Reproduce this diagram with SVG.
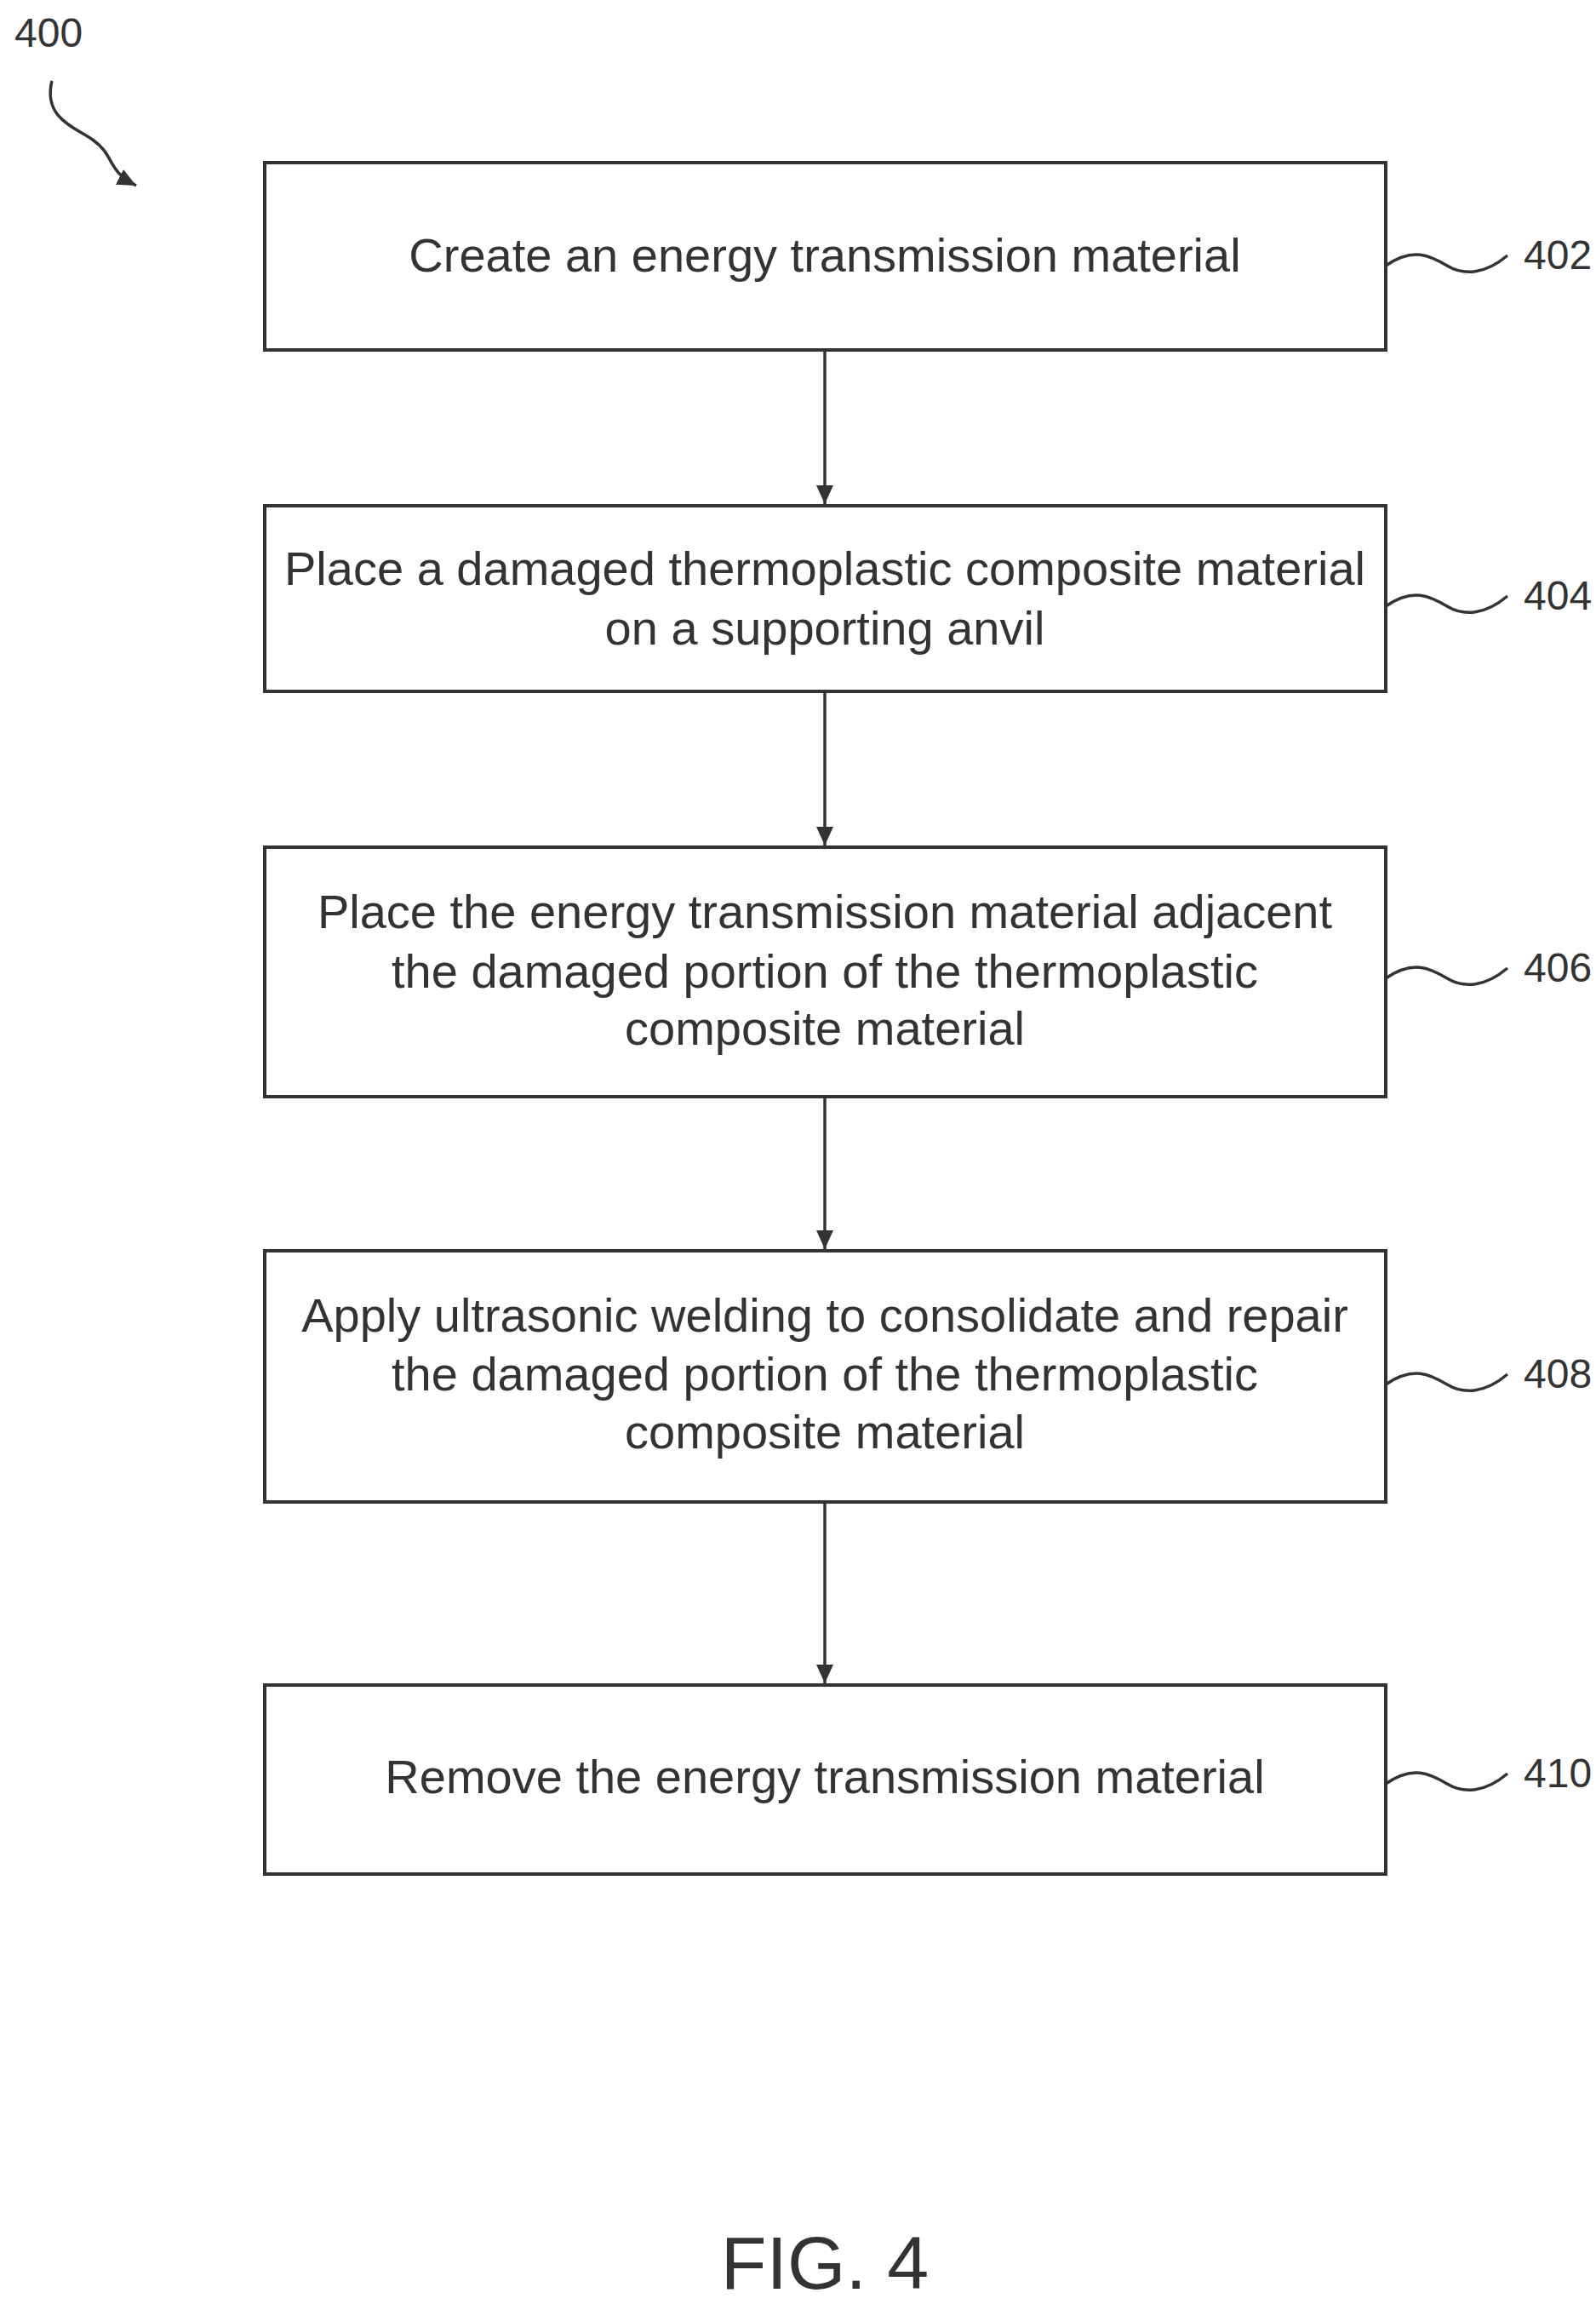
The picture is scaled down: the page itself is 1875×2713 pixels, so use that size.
<svg xmlns="http://www.w3.org/2000/svg" width="1875" height="2713" viewBox="0 0 1875 2713">
<defs>
<style>
.box{fill:#fff;stroke:#333;stroke-width:4}
.t{font-family:"Liberation Sans",Arial,sans-serif;font-size:56px;fill:#333;text-anchor:middle}
.n{font-family:"Liberation Sans Narrow","Liberation Sans",Arial,sans-serif;font-size:48px;fill:#333}
.c{fill:none;stroke:#333;stroke-width:3.5}
</style>
<marker id="a2" markerWidth="24" markerHeight="24" refX="22" refY="12" orient="auto" markerUnits="userSpaceOnUse"><path d="M0,2 L22,12 L0,22 z" fill="#333"/></marker>
</defs>
<rect width="1875" height="2713" fill="#fff"/>
<g id="n400"><text class="n" x="17" y="55">400</text></g>
<g id="n402"><rect class="box" x="311" y="191" width="1317" height="220"/><text class="t" x="969" y="319">Create an energy transmission material</text><text class="n" x="1790" y="316">402</text></g>
<g id="n404"><rect class="box" x="311" y="594" width="1317" height="218"/><text class="t" x="969" y="687">Place a damaged thermoplastic composite material</text><text class="t" x="969" y="757">on a supporting anvil</text><text class="n" x="1790" y="716">404</text></g>
<g id="n406"><rect class="box" x="311" y="995" width="1317" height="293"/><text class="t" x="969" y="1090">Place the energy transmission material adjacent</text><text class="t" x="969" y="1160">the damaged portion of the thermoplastic</text><text class="t" x="969" y="1227">composite material</text><text class="n" x="1790" y="1153">406</text></g>
<g id="n408"><rect class="box" x="311" y="1469" width="1317" height="295"/><text class="t" x="969" y="1564">Apply ultrasonic welding to consolidate and repair</text><text class="t" x="969" y="1633">the damaged portion of the thermoplastic</text><text class="t" x="969" y="1701">composite material</text><text class="n" x="1790" y="1630">408</text></g>
<g id="n410"><rect class="box" x="311" y="1979" width="1317" height="222"/><text class="t" x="969" y="2106">Remove the energy transmission material</text><text class="n" x="1790" y="2099">410</text></g>
<g id="connectors">
<line class="c" x1="969" y1="411" x2="969" y2="592" marker-end="url(#a2)"/>
<line class="c" x1="969" y1="812" x2="969" y2="993" marker-end="url(#a2)"/>
<line class="c" x1="969" y1="1288" x2="969" y2="1467" marker-end="url(#a2)"/>
<line class="c" x1="969" y1="1764" x2="969" y2="1977" marker-end="url(#a2)"/>
<path class="c" d="M1628,312 C1660,290 1680,300 1700,312 C1720,324 1745,322 1771,300"/>
<path class="c" d="M1628,712 C1660,690 1680,700 1700,712 C1720,724 1745,722 1771,700"/>
<path class="c" d="M1628,1149 C1660,1127 1680,1137 1700,1149 C1720,1161 1745,1159 1771,1137"/>
<path class="c" d="M1628,1626 C1660,1604 1680,1614 1700,1626 C1720,1638 1745,1636 1771,1614"/>
<path class="c" d="M1628,2095 C1660,2073 1680,2083 1700,2095 C1720,2107 1745,2105 1771,2083"/>
<path class="c" d="M61,95 C50,140 90,150 110,165 C135,183 125,200 160,218" marker-end="url(#a2)"/>
</g>
<text x="969" y="2688" style="font-family:'Liberation Sans',Arial,sans-serif;font-size:88px;fill:#333;text-anchor:middle">FIG. 4</text>
</svg>
